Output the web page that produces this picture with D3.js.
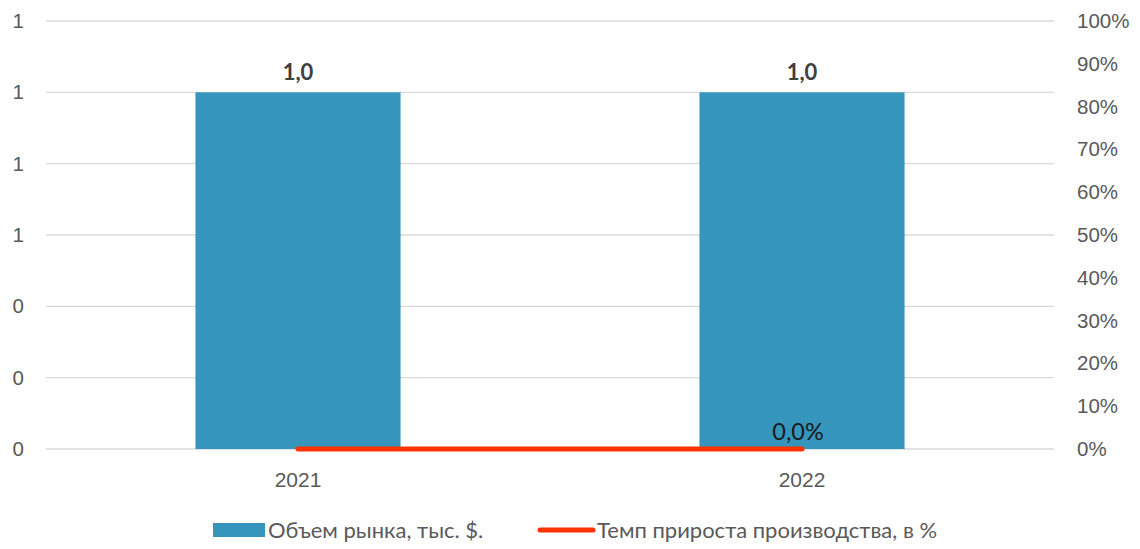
<!DOCTYPE html>
<html><head><meta charset="utf-8">
<script src="https://cdn.jsdelivr.net/npm/d3@7"></script>
<style>
body{margin:0;background:#fff;}
svg{font-family:Lato,"Open Sans",sans-serif;}
</style></head>
<body><svg id="c" width="1140" height="549"></svg>
<script>
const categories = ["2021","2022"];
const marketVolume = [1.0, 1.0];
const growthRate = [0.0, 0.0];
const leftTicks = [0,0.2,0.4,0.6,0.8,1.0,1.2];
const rightTicks = [0,0.1,0.2,0.3,0.4,0.5,0.6,0.7,0.8,0.9,1.0];
const seriesNames = ["Объем рынка, тыс. $.","Темп прироста производства, в %"];

const svg = d3.select("#c");
const L=46, R=1054, T=21, B=449;
const x = d3.scaleBand().domain(categories).range([L,R]).padding(0);
const y = d3.scaleLinear().domain([0,1.2]).range([B,T]);
const y2 = d3.scaleLinear().domain([0,1]).range([B,T]);
const barW = x.bandwidth()*0.407;
const cx = d => x(d)+x.bandwidth()/2;

// gridlines
svg.append("g").selectAll("line").data(leftTicks).join("line")
  .attr("x1",L).attr("x2",R).attr("y1",d=>y(d)).attr("y2",d=>y(d))
  .attr("stroke","#d9d9d9").attr("stroke-width",1.3);

// left axis
const fmtL = d => d3.format(".0f")(d);
const ax = svg.append("g").attr("transform",`translate(${L-22},0)`)
  .call(d3.axisLeft(y).tickValues(leftTicks).tickFormat(fmtL).tickSize(0));
ax.select(".domain").remove();
ax.selectAll("text").attr("fill","#595959").style("font-size","20.5px").attr("x",0);

// right axis
const ax2 = svg.append("g").attr("transform",`translate(${R+23},0)`)
  .call(d3.axisRight(y2).tickValues(rightTicks).tickFormat(d3.format(".0%")).tickSize(0));
ax2.select(".domain").remove();
ax2.selectAll("text").attr("fill","#595959").style("font-size","20.5px").attr("x",0);

// x axis labels
const axx = svg.append("g").attr("transform",`translate(0,${B+20})`)
  .call(d3.axisBottom(x).tickSize(0));
axx.select(".domain").remove();
axx.selectAll("text").attr("fill","#595959").style("font-size","21px");

// bars
svg.append("g").selectAll("rect").data(categories).join("rect")
  .attr("x",d=>cx(d)-barW/2).attr("width",barW)
  .attr("y",(d,i)=>y(marketVolume[i])).attr("height",(d,i)=>B-y(marketVolume[i]))
  .attr("fill","#3595bc");

// bar labels
svg.append("g").selectAll("text").data(categories).join("text")
  .attr("x",d=>cx(d)).attr("y",(d,i)=>y(marketVolume[i])-12)
  .attr("text-anchor","middle").attr("fill","#404040")
  .style("font-size","22px").style("font-weight","bold")
  .text((d,i)=>d3.format(".1f")(marketVolume[i]).replace(".",","));

// line
const line = d3.line().x((d,i)=>cx(categories[i])).y(d=>y2(d));
svg.append("path").datum(growthRate).attr("d",line)
  .attr("fill","none").attr("stroke","#ff3300").attr("stroke-width",5).attr("stroke-linecap","round");

// line label (last point)
const li = categories.length-1;
svg.append("text").attr("x",cx(categories[li])-4).attr("y",y2(growthRate[li])-9)
  .attr("text-anchor","middle").attr("fill","#1a1a1a").style("font-size","23.5px")
  .text(d3.format(".1f")(growthRate[li]*100).replace(".",",")+"%");

// legend
const lg = svg.append("g");
lg.append("rect").attr("x",213).attr("y",523).attr("width",52).attr("height",14).attr("fill","#3595bc");
lg.append("text").attr("x",268).attr("y",538).attr("fill","#595959").style("font-size","22px").text(seriesNames[0]);
lg.append("line").attr("x1",540).attr("x2",593).attr("y1",530).attr("y2",530)
  .attr("stroke","#ff3300").attr("stroke-width",5).attr("stroke-linecap","round");
lg.append("text").attr("x",597).attr("y",538).attr("fill","#595959").style("font-size","22px").text(seriesNames[1]);
</script></body></html>
